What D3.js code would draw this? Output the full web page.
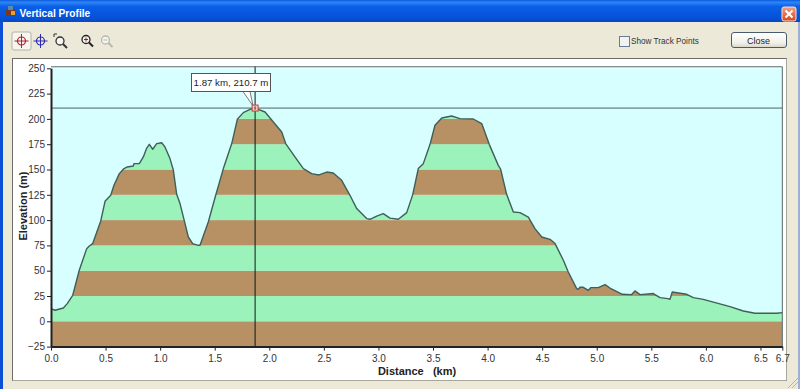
<!DOCTYPE html>
<html><head><meta charset="utf-8">
<style>html,body{margin:0;padding:0;background:#ece9d8;overflow:hidden}svg{display:block}text{font-family:"Liberation Sans",Arial,sans-serif}</style>
<script src="https://cdn.jsdelivr.net/npm/d3@7"></script></head>
<body><svg id="c" width="800" height="389"></svg>
<script>
const distanceKm=[0,.037,.113,.149,.199,.259,.327,.351,.382,.455,.495,.547,.577,.626,.669,.699,.754,.76,.809,.846,.877,.901,.932,.968,1.014,1.044,1.09,1.121,1.152,1.182,1.228,1.258,1.298,1.35,
1.365,1.441,1.509,1.579,1.656,1.707,1.762,1.823,1.87,1.961,2.037,2.114,2.15,2.235,2.312,2.388,2.455,2.526,2.586,2.663,2.739,2.801,2.892,
2.923,2.984,3.044,3.106,3.182,3.259,3.314,3.365,3.411,3.472,3.518,3.58,3.671,3.747,3.869,3.946,4.016,4.098,4.12,4.175,4.236,4.297,4.373,4.434,4.496,4.572,4.618,4.694,4.739,4.816,4.831,4.847,4.877,4.923,4.947,5.014,5.076,5.121,5.234,5.32,5.35,5.396,5.518,5.58,5.653,5.671,5.692,5.824,5.885,5.976,6.221,6.343,6.45,6.649,6.7];
const elevationM=[12.5,10.9,13.1,17.5,25.7,50.4,71.8,74.4,76.8,98.8,118.6,124.5,134.4,145.9,150.9,152.5,153.5,155.8,155.8,162.4,171.2,174.9,170,175.6,176.6,172.2,160.8,149.2,125.2,116.3,96.5,83.3,76.8,75.1,
75.1,98.1,124.5,150.9,175.6,199.6,206.2,209.5,210.7,206.8,196.9,187,175.6,162.4,150.9,145.9,144.6,147.5,146.5,139.3,124.5,111.4,101.5,
100.8,104,106.4,102,100.8,107.4,125.2,150.9,155.8,174.6,193.7,200.9,202.9,200.3,199.9,195.4,174.6,154.1,150.2,125.2,108,107.4,103,91.6,83.3,81,76.8,60.3,48.7,32.3,31.6,33.6,33.6,30.6,33.3,33.3,36.3,32.9,26.7,26.4,30,26.4,27.4,23.4,22.4,21.7,29,26.7,23.4,21.7,14.5,10.2,8,8,8.6];
const xTicks=[0,0.5,1,1.5,2,2.5,3,3.5,4,4.5,5,5.5,6,6.5,6.7];
const yTicks=[-25,0,25,50,75,100,125,150,175,200,225,250];
const bandEdges=[-25,0,25,50,75,100,125,150,175,200,225];
const bandColors=["#b79063","#9bf3bb"];
const cursorKm=1.87, cursorM=210.7;
const titleText="Vertical Profile", xTitle="Distance   (km)", yTitle="Elevation (m)";

const svg=d3.select("#c");
const x=d3.scaleLinear().domain([0,6.7]).range([51,782.3]);
const y=d3.scaleLinear().domain([-25,250]).range([346.6,68.3]);

const defs=svg.append("defs");
function grad(id,stops){
  const g=defs.append("linearGradient").attr("id",id).attr("x1",0).attr("y1",0).attr("x2",0).attr("y2",1);
  stops.forEach(s=>g.append("stop").attr("offset",s[0]).attr("stop-color",s[1]));
}
grad("tb",[[0,"#0a5ae0"],[0.1,"#2f86f5"],[0.3,"#0a5fe6"],[0.8,"#0552d8"],[1,"#0a48c0"]]);
grad("xb",[[0,"#f0a080"],[1,"#d8461c"]]);
grad("bt",[[0,"#ffffff"],[0.7,"#f1f0e8"],[1,"#d8d4c4"]]);
defs.append("clipPath").attr("id","ground").append("path")
  .attr("d",d3.area().x((d,i)=>x(distanceKm[i])).y0(y(-25)).y1(d=>y(d))(elevationM));

svg.append("rect").attr("width",800).attr("height",389).attr("fill","#ece9d8");
svg.append("rect").attr("width",800).attr("height",22).attr("fill","url(#tb)");
svg.append("rect").attr("x",0).attr("y",22).attr("width",3).attr("height",367).attr("fill","#0a4fd6");
svg.append("rect").attr("x",798).attr("y",22).attr("width",2).attr("height",367).attr("fill","#9fb0d8");
svg.append("text").attr("x",19.5).attr("y",17).attr("font-size",10.2).attr("font-weight","bold").attr("fill","#fff").text(titleText);
svg.append("rect").attr("x",6).attr("y",9).attr("width",9).attr("height",7).attr("fill","#7a3a20");
svg.append("rect").attr("x",8).attr("y",6).attr("width",5).attr("height",4).attr("fill","#5a8ab0");
svg.append("rect").attr("x",11).attr("y",11).attr("width",4).attr("height",4).attr("fill","#e8a030");
svg.append("rect").attr("x",782).attr("y",7).attr("width",14).attr("height",14).attr("rx",2).attr("fill","url(#xb)").attr("stroke","#f4e0d8");
svg.append("path").attr("d","M785.5 10.5L792.5 17.5M792.5 10.5L785.5 17.5").attr("stroke","#fff").attr("stroke-width",2);

// toolbar
svg.append("rect").attr("x",12).attr("y",32).attr("width",19).attr("height",18).attr("rx",2).attr("fill","#f6f5ef").attr("stroke","#b5b2a4");
function cross(cx,cy,c){
  svg.append("circle").attr("cx",cx).attr("cy",cy).attr("r",4).attr("fill","none").attr("stroke",c).attr("stroke-width",1.2);
  svg.append("path").attr("d",`M${cx-7} ${cy}H${cx+7}M${cx} ${cy-7}V${cy+7}`).attr("stroke",c).attr("stroke-width",1);
}
cross(21.5,41,"#b02030"); cross(40.5,41,"#2a2ab0");
function lens(cx,cy,c,mark){
  svg.append("circle").attr("cx",cx).attr("cy",cy).attr("r",4).attr("fill","#f4f4f0").attr("stroke",c).attr("stroke-width",1.3);
  svg.append("path").attr("d",`M${cx+3} ${cy+3}L${cx+7} ${cy+7}`).attr("stroke",c).attr("stroke-width",2);
  if(mark==="plus") svg.append("path").attr("d",`M${cx-2} ${cy}H${cx+2}M${cx} ${cy-2}V${cy+2}`).attr("stroke","#a02020");
  if(mark==="minus") svg.append("path").attr("d",`M${cx-2} ${cy}H${cx+2}`).attr("stroke",c);
}
lens(60,41,"#333","none");
svg.append("path").attr("d","M54 37V34H57").attr("fill","none").attr("stroke","#333");
lens(86,39.5,"#222","plus"); lens(105.5,40,"#b8b8b0","minus");
svg.append("rect").attr("x",619.5).attr("y",36.5).attr("width",10).attr("height",10).attr("fill","#f2f2f2").attr("stroke","#6a7a90");
svg.append("text").attr("x",631).attr("y",44).attr("font-size",8.2).attr("fill","#333").text("Show Track Points");
svg.append("rect").attr("x",731.5).attr("y",32.5).attr("width",55).attr("height",15).attr("rx",2.5).attr("fill","url(#bt)").attr("stroke","#4a5a70");
svg.append("text").attr("x",758.5).attr("y",44).attr("text-anchor","middle").attr("font-size",9).attr("fill","#222").text("Close");

// panel
svg.append("rect").attr("x",12.5).attr("y",58.5).attr("width",774).attr("height",322).attr("fill","#fff").attr("stroke","#6d6d66");
svg.append("path").attr("d","M12.5 380.5H786.5V58.5").attr("fill","none").attr("stroke","#a9a79c").attr("stroke-width",1);

// plot
svg.append("rect").attr("x",x(0)).attr("y",y(250)).attr("width",x(6.7)-x(0)).attr("height",y(-25)-y(250)).attr("fill","#d8ffff");
svg.append("g").attr("clip-path","url(#ground)").selectAll("rect").data(bandEdges).join("rect")
  .attr("x",x(0)).attr("width",x(6.7)-x(0))
  .attr("y",d=>y(d+25)).attr("height",d=>y(d)-y(d+25))
  .attr("fill",(d,i)=>bandColors[i%2]);
svg.append("path").attr("fill","none").attr("stroke","#3f5f58").attr("stroke-width",1.4).attr("stroke-linejoin","round")
  .attr("d",d3.line().x((d,i)=>x(distanceKm[i])).y(d=>y(d))(elevationM));

// cursor lines
svg.append("line").attr("x1",x(0)).attr("x2",x(6.7)).attr("y1",y(cursorM)).attr("y2",y(cursorM)).attr("stroke","#4a6464").attr("stroke-width",1);
svg.append("line").attr("x1",x(cursorKm)).attr("x2",x(cursorKm)).attr("y1",y(250)-2).attr("y2",y(-25)).attr("stroke","#101818").attr("stroke-width",1);

// frame
svg.append("path").attr("d",`M${x(0)} ${y(250)-1.5}H${x(6.7)}V${y(-25)}`).attr("fill","none").attr("stroke","#566").attr("stroke-width",1);

// axes
const ax=svg.append("g").attr("transform",`translate(0,${y(-25)})`)
  .call(d3.axisBottom(x).tickValues(xTicks).tickFormat(d3.format(".1f")).tickSize(4).tickPadding(4).tickSizeOuter(0));
const ay=svg.append("g").attr("transform",`translate(${x(0)},0)`)
  .call(d3.axisLeft(y).tickValues(yTicks).tickSize(4).tickPadding(2).tickSizeOuter(0));
[ax,ay].forEach(g=>{
  g.select(".domain").attr("stroke","#222").attr("stroke-width",2);
  g.selectAll(".tick line").attr("stroke","#222");
  g.selectAll("text").attr("fill","#333").attr("font-size",10).attr("font-family",'"Liberation Sans",Arial,sans-serif');
});
svg.append("text").attr("x",417).attr("y",375).attr("text-anchor","middle").attr("font-size",11).attr("font-weight","bold").attr("fill","#222").style("white-space","pre").text(xTitle);
svg.append("text").attr("transform","translate(27,206) rotate(-90)").attr("text-anchor","middle").attr("font-size",11).attr("font-weight","bold").attr("fill","#222").text(yTitle);

// callout
svg.append("path").attr("d",`M243 91.5L${x(cursorKm)-2} ${y(cursorM)-2}L250 91.5`).attr("fill","#fff").attr("stroke","#555").attr("stroke-width",0.8);
svg.append("rect").attr("x",191.5).attr("y",73.5).attr("width",79).attr("height",18).attr("fill","#fff").attr("stroke","#555");
svg.append("text").attr("x",231).attr("y",86).attr("text-anchor","middle").attr("font-size",9.7).attr("fill","#222").text(`${cursorKm} km, ${cursorM} m`);
svg.append("rect").attr("x",x(cursorKm)-3).attr("y",y(cursorM)-3).attr("width",6).attr("height",6).attr("fill","#f6c8c0").attr("stroke","#c04040").attr("stroke-width",1);
svg.append("line").attr("x1",x(cursorKm)).attr("x2",x(cursorKm)).attr("y1",y(cursorM)-1.5).attr("y2",y(cursorM)+1.5).attr("stroke","#222");
svg.append("path").attr("d","M788 388L798 378M792 388L798 382").attr("stroke","#b8b4a4");
</script></body></html>
